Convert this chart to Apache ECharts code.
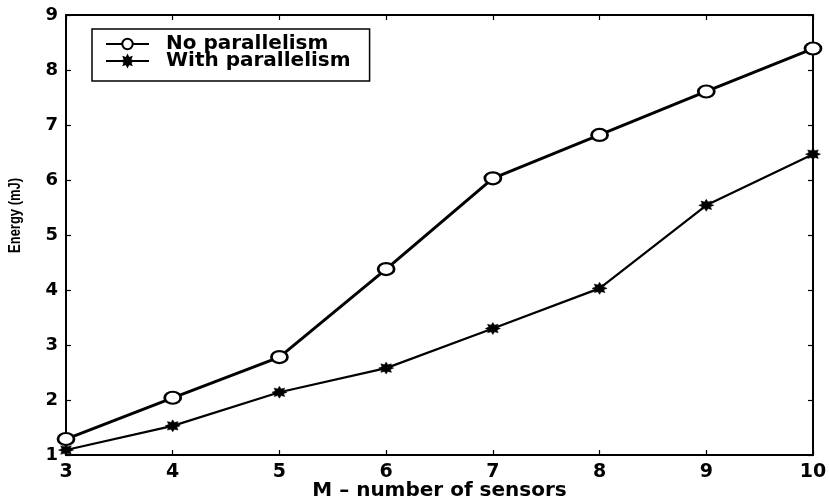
<!DOCTYPE html>
<html>
<head>
<meta charset="utf-8">
<script src="https://cdn.jsdelivr.net/npm/echarts@6/dist/echarts.min.js"></script>
<style>
  html, body { margin: 0; padding: 0; background: #fff; }
  #chart { width: 829px; height: 500px; }
</style>
</head>
<body>
<div id="chart"></div>
<script>
// Number of sensors (x) and energy in mJ for each scheme
const sensors = [3, 4, 5, 6, 7, 8, 9, 10];
const noParallelism = [1.29, 2.04, 2.78, 4.38, 6.03, 6.82, 7.61, 8.39];
const withParallelism = [1.09, 1.53, 2.14, 2.58, 3.30, 4.03, 5.54, 6.47];
const xTicks = [3, 4, 5, 6, 7, 8, 9, 10];
const yTicks = [1, 2, 3, 4, 5, 6, 7, 8, 9];

// Filled eight-point star marker
function starPath(points, outer, inner) {
  let d = '';
  for (let i = 0; i < points * 2; i++) {
    const r = i % 2 === 0 ? outer : inner;
    const a = Math.PI * i / points - Math.PI / 2;
    d += (i === 0 ? 'M' : 'L') + (r * Math.cos(a)).toFixed(2) + ',' + (r * Math.sin(a)).toFixed(2);
  }
  return 'path://' + d + 'Z';
}
const star = starPath(8, 10, 6);

const boldFont = 'DejaVu Sans, Arial, Helvetica, sans-serif';
const plainFont = '"Liberation Sans", Arial, Helvetica, sans-serif';
const chart = echarts.init(document.getElementById('chart'), null, { renderer: 'canvas' });

const axisLine = { show: true, onZero: false, lineStyle: { color: '#000', width: 2 } };
const axisTick = { show: true, inside: true, length: 5, lineStyle: { color: '#000', width: 1.2 } };

const baseX = { type: 'value', min: 3, max: 10, interval: 1, axisLine, axisTick, splitLine: { show: false } };
const baseY = { type: 'value', min: 1, max: 9, interval: 1, axisLine, axisTick, splitLine: { show: false } };

chart.setOption({
  animation: false,
  backgroundColor: '#fff',
  grid: { left: 66, right: 16, top: 15, bottom: 45, containLabel: false, outerBoundsMode: 'none' },
  legend: {
    orient: 'vertical',
    left: 92, top: 29,
    padding: [5, 19, 10, 13],
    itemGap: -3,
    itemWidth: 43, itemHeight: 13,
    borderColor: '#000', borderWidth: 1.5,
    backgroundColor: '#fff',
    textStyle: {
      fontFamily: boldFont, fontSize: 20, fontWeight: 'bold', color: '#000',
      lineHeight: 17, padding: [0, 0, 0, 12]
    },
    data: ['No parallelism', 'With parallelism']
  },
  graphic: [{
    type: 'text',
    left: 8, top: 178,
    rotation: Math.PI / 2,
    scaleX: 0.81,
    style: { text: 'Energy (mJ)', font: 'bold 16px ' + plainFont, fill: '#000' }
  }],
  xAxis: [
    Object.assign({}, baseX, {
      position: 'bottom',
      name: 'M \u2013 number of sensors',
      nameLocation: 'middle', nameGap: 26, nameMoveOverlap: false,
      nameTextStyle: { fontFamily: boldFont, fontSize: 20, fontWeight: 'bold', color: '#000', verticalAlign: 'top' },
      axisLabel: {
        fontFamily: boldFont, fontSize: 19, fontWeight: 'bold', color: '#000', margin: 8,
        formatter: v => xTicks.includes(v) ? String(v) : ''
      }
    }),
    Object.assign({}, baseX, { position: 'top', axisLabel: { show: false } })
  ],
  yAxis: [
    Object.assign({}, baseY, {
      position: 'left',
      axisLabel: {
        fontFamily: boldFont, fontSize: 18, fontWeight: 'bold', color: '#000', margin: 8,
        formatter: v => yTicks.includes(v) ? String(v) : ''
      }
    }),
    Object.assign({}, baseY, { position: 'right', axisLabel: { show: false } })
  ],
  series: [
    {
      name: 'No parallelism',
      type: 'line',
      data: sensors.map((s, i) => [s, noParallelism[i]]),
      symbol: 'circle', symbolSize: [16, 12],
      lineStyle: { color: '#000', width: 3 },
      itemStyle: { color: '#fff', borderColor: '#000', borderWidth: 2.4 },
      z: 3
    },
    {
      name: 'With parallelism',
      type: 'line',
      data: sensors.map((s, i) => [s, withParallelism[i]]),
      symbol: star, symbolSize: [15, 12],
      lineStyle: { color: '#000', width: 2.2 },
      itemStyle: { color: '#000', borderColor: '#000', borderWidth: 0.5 },
      z: 3
    }
  ]
});
</script>
</body>
</html>
